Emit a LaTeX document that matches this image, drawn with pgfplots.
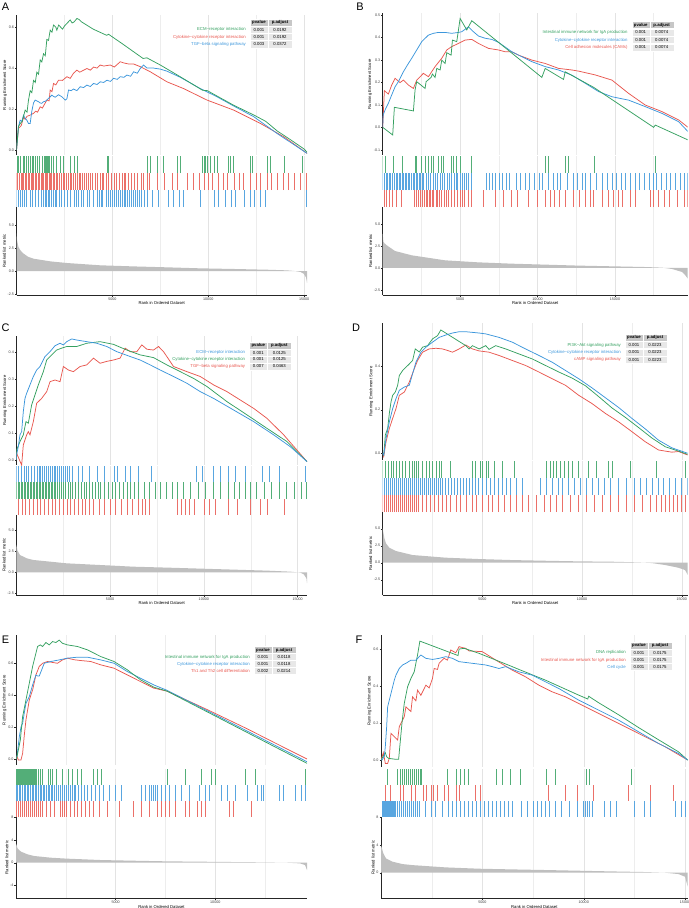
\documentclass[border=0pt]{standalone}
\usepackage{pgfplots}
\pgfplotsset{compat=1.18}
\usepackage{fontspec}
\setmainfont{Liberation Sans}
\definecolor{gG}{HTML}{35A060}
\definecolor{gR}{HTML}{E8574F}
\definecolor{gB}{HTML}{3C96DB}
\colorlet{hG}{gG!85!white}
\colorlet{hR}{gR!85!white}
\colorlet{hB}{gB!85!white}
\newcommand\tkf{\fontsize{3.7}{4}\selectfont}
\newcommand\lbf{\fontsize{4.2}{5}\selectfont}
\newcommand\tbf{\fontsize{4.3}{5}\selectfont}
\pgfplotsset{
  gbase/.style={scale only axis, anchor=north west, xmin=0, axis lines*=left,
    axis line style={line width=0.45bp, draw=black!85},
    every tick/.style={line width=0.35bp, draw=black!85},
    tick align=outside, major tick length=1.5bp, minor tick length=0bp,
    xtick={5000,10000,15000}, minor xtick={2500,7500,12500,17500},
    xmajorgrids, xminorgrids,
    major grid style={line width=0.35bp, draw=black!11},
    minor grid style={line width=0.3bp, draw=black!7},
    ticklabel style={font=\tkf, text=black!75, inner sep=0.8bp},
    label style={font=\lbf, inner sep=0.8bp},
    scaled ticks=false,
    /pgf/number format/assume math mode=true,
    /pgf/number format/1000 sep={},
    xticklabel style={/pgf/number format/fixed},
  },
  noxax/.style={x axis line style={draw=none}, xticklabels={}, xtick style={draw=none}},
  esax/.style={gbase, noxax, ylabel={Running Enrichment Score},
    yticklabel style={/pgf/number format/.cd, fixed, fixed zerofill, precision=1}},
  hitax/.style={gbase, noxax, ymin=0, ymax=1, ytick=\empty, y axis line style={draw=none}},
  rkax/.style={gbase, ylabel={Ranked list metric}, xlabel={Rank in Ordered Dataset},
    yticklabel style={/pgf/number format/.cd, fixed, fixed zerofill, precision=1}},
  rkaxi/.style={gbase, ylabel={Ranked list metric}, xlabel={Rank in Ordered Dataset},
    yticklabel style={/pgf/number format/.cd, fixed, precision=0}},
  esl/.style={line width=0.75bp, no marks},
  hit/.style={ycomb, no marks, line width=0.6bp},
  rank/.style={fill=black!25, draw=none, no marks},
}
\newcommand\gthead[2]{\begin{scope}[shift={(#1bp,-#2bp)}]
  \fill[black!22,draw=white,line width=0.4bp] (0,-3.6bp) rectangle (18bp,3.6bp);
  \fill[black!22,draw=white,line width=0.4bp] (18bp,-3.6bp) rectangle (42bp,3.6bp);
  \node[font=\tbf\bfseries,inner sep=0] at (9bp,0) {pvalue};
  \node[font=\tbf\bfseries,inner sep=0] at (30bp,0) {p.adjust};
  \end{scope}}
\newcommand\gtrow[6]{\begin{scope}[shift={(#1bp,-#2bp)}]
  \fill[black!9,draw=white,line width=0.4bp] (0,-3.6bp) rectangle (18bp,3.6bp);
  \fill[black!9,draw=white,line width=0.4bp] (18bp,-3.6bp) rectangle (42bp,3.6bp);
  \node[font=\tbf,inner sep=0,anchor=east,text=#3] at (-4bp,0) {#4};
  \node[font=\tbf,inner sep=0] at (9bp,0) {#5};
  \node[font=\tbf,inner sep=0] at (30bp,0) {#6};
  \end{scope}}
\begin{document}
\begin{tikzpicture}
\useasboundingbox (0,0) rectangle (689bp,-908bp);
% ================= PANEL A =================
\begin{axis}[esax, at={(16.5bp,-15bp)}, width=290.5bp, height=140bp, xmax=15150, ymin=-0.024, ymax=0.659, ytick={0,0.2,0.4,0.6}]
\addplot[esl,gR] coordinates {(0,0)(104,0.106)(250,0.12)(365,0.16)(450,0.15)(550,0.165)(700,0.17)(887,0.179)(1000,0.19)(1100,0.185)(1235,0.211)(1350,0.205)(1583,0.244)(1700,0.24)(1757,0.293)(1850,0.285)(1931,0.325)(2050,0.318)(2192,0.341)(2400,0.34)(2627,0.358)(2800,0.35)(2975,0.375)(3149,0.39)(3300,0.38)(3671,0.398)(3850,0.39)(4019,0.405)(4200,0.40)(4367,0.415)(4550,0.41)(4889,0.415)(5100,0.405)(5411,0.431)(5600,0.425)(5846,0.42)(6107,0.42)(6455,0.407)(6977,0.382)(7847,0.333)(8717,0.30)(9935,0.244)(11327,0.195)(12719,0.13)(13937,0.065)(15155,-0.016)};
\addplot[esl,gB] coordinates {(0,0)(104,0.114)(191,0.146)(278,0.14)(365,0.17)(452,0.155)(539,0.146)(626,0.13)(713,0.13)(800,0.19)(887,0.23)(974,0.244)(1060,0.24)(1148,0.236)(1235,0.23)(1322,0.228)(1409,0.236)(1500,0.238)(1583,0.244)(1757,0.26)(1844,0.268)(1931,0.262)(2018,0.258)(2192,0.27)(2366,0.26)(2540,0.244)(2627,0.25)(2714,0.293)(2850,0.29)(2975,0.298)(3149,0.29)(3323,0.309)(3500,0.305)(3671,0.317)(3850,0.31)(4019,0.325)(4200,0.32)(4367,0.333)(4550,0.33)(4715,0.341)(4900,0.335)(5063,0.35)(5250,0.345)(5411,0.358)(5600,0.355)(5759,0.366)(5950,0.36)(6107,0.382)(6300,0.375)(6455,0.398)(6629,0.415)(6803,0.40)(7151,0.40)(7499,0.395)(7847,0.385)(8543,0.355)(9587,0.30)(10457,0.26)(11327,0.215)(12371,0.163)(13589,0.081)(15155,-0.016)};
\addplot[esl,gG] coordinates {(0,0)(100,0.115)(200,0.13)(300,0.14)(450,0.195)(550,0.185)(620,0.24)(713,0.29)(800,0.28)(887,0.34)(980,0.33)(1061,0.38)(1150,0.37)(1235,0.44)(1320,0.43)(1409,0.47)(1500,0.46)(1583,0.54)(1670,0.535)(1757,0.585)(1850,0.575)(1931,0.61)(2050,0.60)(2105,0.585)(2200,0.61)(2400,0.59)(2500,0.605)(2650,0.62)(2800,0.635)(2900,0.62)(3000,0.625)(3150,0.642)(3250,0.638)(3400,0.625)(4000,0.59)(4700,0.56)(4800,0.565)(5500,0.52)(6600,0.447)(6800,0.45)(7500,0.415)(8500,0.36)(9700,0.292)(9950,0.29)(11300,0.22)(12400,0.17)(13000,0.14)(13600,0.093)(14300,0.05)(15000,0.005)(15150,-0.01)};
\end{axis}
\begin{axis}[hitax, at={(16.5bp,-156bp)}, width=290.5bp, height=17bp, xmax=15150]
\addplot[hit,hG] coordinates {(20,1)(100,1)(190,1)(330,1)(400,1)(500,1)(630,1)(710,1)(800,1)(890,1)(970,1)(1060,1)(1200,1)(1320,1)(1440,1)(1500,1)(1550,1)(1620,1)(1670,1)(1720,1)(1790,1)(1930,1)(2100,1)(2280,1)(2450,1)(2800,1)(3000,1)(3180,1)(4710,1)(4800,1)(6800,1)(6980,1)(7320,1)(7670,1)(8370,1)(8540,1)(9680,1)(9770,1)(9850,1)(9940,1)(10110,1)(10290,1)(10460,1)(11070,1)(11160,1)(11330,1)(12200,1)(12290,1)(13070,1)(13240,1)(13940,1)(14900,1)};
\end{axis}
\begin{axis}[hitax, at={(16.5bp,-173bp)}, width=290.5bp, height=17bp, xmax=15150]
\addplot[hit,hR] coordinates {(0,1)(60,1)(150,1)(230,1)(300,1)(380,1)(450,1)(520,1)(600,1)(680,1)(750,1)(830,1)(900,1)(980,1)(1050,1)(1120,1)(1200,1)(1280,1)(1350,1)(1420,1)(1500,1)(1560,1)(1630,1)(1700,1)(1760,1)(1830,1)(1900,1)(1980,1)(2050,1)(2150,1)(2250,1)(2330,1)(2420,1)(2500,1)(2600,1)(2700,1)(2780,1)(2880,1)(2950,1)(3050,1)(3150,1)(3250,1)(3350,1)(3430,1)(3550,1)(3650,1)(3750,1)(3850,1)(3950,1)(4100,1)(4200,1)(4350,1)(4450,1)(4550,1)(4700,1)(4800,1)(4950,1)(5100,1)(5200,1)(5350,1)(5500,1)(5600,1)(5700,1)(5850,1)(6000,1)(6150,1)(6300,1)(6500,1)(6600,1)(6800,1)(6950,1)(7350,1)(7700,1)(8100,1)(8400,1)(8900,1)(9200,1)(9550,1)(9800,1)(10000,1)(10200,1)(10500,1)(10800,1)(11000,1)(11350,1)(11600,1)(11850,1)(12200,1)(12500,1)(12700,1)(13100,1)(13300,1)(13600,1)(13900,1)(14200,1)(14500,1)(14800,1)(15100,1)};
\end{axis}
\begin{axis}[hitax, at={(16.5bp,-190bp)}, width=290.5bp, height=17bp, xmax=15150]
\addplot[hit,hB] coordinates {(0,1)(90,1)(200,1)(300,1)(420,1)(520,1)(700,1)(850,1)(1000,1)(1150,1)(1300,1)(1400,1)(1480,1)(1560,1)(1640,1)(1700,1)(1800,1)(1900,1)(2000,1)(2100,1)(2250,1)(2350,1)(2500,1)(2650,1)(2800,1)(3000,1)(3100,1)(3200,1)(3400,1)(3500,1)(3700,1)(3800,1)(4000,1)(4200,1)(4300,1)(4400,1)(4500,1)(4700,1)(4800,1)(4900,1)(5000,1)(5100,1)(5200,1)(5300,1)(5400,1)(5500,1)(5600,1)(5700,1)(5800,1)(5900,1)(6000,1)(6100,1)(6200,1)(6300,1)(6400,1)(6500,1)(6650,1)(6800,1)(7100,1)(7400,1)(7900,1)(8200,1)(8500,1)(8700,1)(9600,1)(10300,1)(10500,1)(10900,1)(11200,1)(11400,1)(11900,1)(12200,1)(12400,1)(12700,1)(13000,1)(15100,1)};
\end{axis}
\begin{axis}[rkax, at={(16.5bp,-207bp)}, width=290.5bp, height=88bp, xmax=15150, ymin=-2.61, ymax=6.96, ytick={-2.5,0,2.5,5}]
\addplot[rank] coordinates {(0,4.1)(30,3.3)(104,2.6)(200,2.25)(365,1.9)(600,1.55)(887,1.34)(1757,1.05)(2627,0.87)(4367,0.62)(6107,0.5)(7847,0.4)(9587,0.29)(11327,0.22)(13067,0.14)(14111,0.07)(14500,0.0)(14807,-0.1)(14981,-0.3)(15100,-0.7)(15150,-1.3)} \closedcycle;
\end{axis}
% ================= PANEL B =================
\begin{axis}[esax, at={(382.7bp,-13.3bp)}, width=305bp, height=141.7bp, xmax=19700, ymin=-0.123, ymax=0.507, ytick={-0.1,0,0.1,0.2,0.3,0.4,0.5}]
\addplot[esl,gR] coordinates {(0,0)(108,0.163)(366,0.148)(582,0.188)(797,0.218)(1120,0.199)(1336,0.21)(1659,0.188)(1983,0.173)(2198,0.21)(2629,0.24)(2952,0.225)(3383,0.27)(3814,0.307)(4138,0.344)(4461,0.359)(4892,0.373)(5323,0.388)(5754,0.391)(6185,0.373)(6831,0.351)(7478,0.344)(7909,0.336)(8340,0.336)(8771,0.321)(9633,0.299)(10495,0.284)(11357,0.262)(12219,0.255)(12650,0.25)(13727,0.233)(14805,0.21)(15882,0.151)(16960,0.099)(18037,0.07)(19114,0.033)(19718,0)};
\addplot[esl,gB] coordinates {(0,0)(30,0.055)(151,0.077)(366,0.107)(582,0.144)(797,0.18)(1013,0.203)(1336,0.247)(1659,0.284)(1875,0.307)(2198,0.344)(2521,0.381)(2952,0.41)(3276,0.418)(3599,0.422)(4030,0.422)(4461,0.418)(4892,0.422)(5107,0.425)(5538,0.447)(5862,0.425)(6185,0.406)(6616,0.396)(7047,0.391)(7478,0.378)(8340,0.336)(9633,0.292)(10495,0.27)(11357,0.255)(12219,0.232)(13081,0.196)(13943,0.159)(14805,0.136)(15882,0.121)(16960,0.092)(18037,0.062)(19114,0.025)(19718,-0.019)};
\addplot[esl,gG] coordinates {(0,0)(647,-0.034)(754,0.089)(1983,0.073)(2090,0.166)(2198,0.203)(2737,0.173)(2802,0.203)(3125,0.222)(3211,0.237)(3383,0.222)(3491,0.262)(3707,0.255)(3814,0.299)(4030,0.284)(4138,0.332)(4418,0.321)(4504,0.388)(4784,0.381)(5000,0.484)(5431,0.433)(5754,0.474)(10279,0.222)(10495,0.262)(11680,0.213)(11788,0.247)(13620,0.178)(17499,0.0)(17606,0.01)(19718,-0.056)};
\end{axis}
\begin{axis}[hitax, at={(382.7bp,-156bp)}, width=305bp, height=17bp, xmax=19700]
\addplot[hit,hG] coordinates {(0,1)(151,1)(690,1)(1272,1)(2090,1)(2198,1)(2521,1)(2737,1)(2952,1)(3125,1)(3276,1)(3599,1)(3814,1)(3922,1)(4418,1)(4569,1)(4784,1)(5000,1)(5754,1)(10495,1)(10711,1)(11788,1)(12003,1)(13685,1)(17606,1)};
\end{axis}
\begin{axis}[hitax, at={(382.7bp,-173bp)}, width=305bp, height=17bp, xmax=19700]
\addplot[hit,hB] coordinates {(0,1)(100,1)(200,1)(320,1)(430,1)(520,1)(640,1)(750,1)(850,1)(950,1)(1050,1)(1150,1)(1250,1)(1350,1)(1450,1)(1550,1)(1650,1)(1750,1)(1850,1)(1950,1)(2050,1)(2150,1)(2250,1)(2350,1)(2450,1)(2550,1)(2650,1)(2800,1)(2950,1)(3100,1)(3250,1)(3400,1)(3550,1)(3700,1)(3850,1)(4000,1)(4150,1)(4300,1)(4450,1)(4600,1)(4750,1)(4850,1)(5000,1)(5150,1)(5300,1)(5400,1)(5550,1)(5700,1)(6700,1)(6900,1)(7100,1)(7250,1)(7500,1)(7700,1)(8000,1)(8200,1)(8600,1)(8900,1)(9200,1)(9500,1)(9800,1)(10100,1)(10300,1)(10700,1)(11000,1)(11300,1)(11500,1)(11900,1)(12300,1)(12600,1)(12900,1)(13100,1)(13400,1)(13800,1)(14200,1)(14500,1)(14800,1)(15100,1)(15400,1)(15700,1)(16000,1)(16300,1)(16600,1)(16900,1)(17200,1)(17500,1)(17700,1)(18000,1)(18300,1)(18600,1)(18900,1)(19200,1)(19500,1)(19700,1)};
\end{axis}
\begin{axis}[hitax, at={(382.7bp,-190bp)}, width=305bp, height=17bp, xmax=19700]
\addplot[hit,hR] coordinates {(100,1)(250,1)(400,1)(600,1)(900,1)(1200,1)(2050,1)(2150,1)(2300,1)(2400,1)(2550,1)(2700,1)(2800,1)(2900,1)(3000,1)(3100,1)(3200,1)(3300,1)(3450,1)(3550,1)(3650,1)(3800,1)(3950,1)(4100,1)(4250,1)(4400,1)(4600,1)(4800,1)(5000,1)(5150,1)(5300,1)(5500,1)(5700,1)(6500,1)(7300,1)(7800,1)(8300,1)(8700,1)(9400,1)(10000,1)(10500,1)(10800,1)(11100,1)(11400,1)(11800,1)(12300,1)(12700,1)(13100,1)(13400,1)(13600,1)(14200,1)(14600,1)(14900,1)(15200,1)(15500,1)(16000,1)(16300,1)(17300,1)(17500,1)(17800,1)(18200,1)(18500,1)(19000,1)(19500,1)(19700,1)};
\end{axis}
\begin{axis}[rkax, at={(382.7bp,-207bp)}, width=305bp, height=88bp, xmax=19700, ymin=-3.07, ymax=6.93, ytick={-2.5,0,2.5,5}]
\addplot[rank] coordinates {(0,3.9)(43,3.0)(120,2.8)(259,2.58)(797,1.93)(1875,1.44)(4030,0.87)(6185,0.64)(8340,0.49)(10495,0.38)(12650,0.27)(14805,0.19)(16960,0.11)(18037,0.04)(18684,-0.11)(19330,-0.45)(19546,-0.83)(19700,-1.2)} \closedcycle;
\end{axis}
% ================= PANEL C =================
\begin{axis}[esax, at={(16.3bp,-335.7bp)}, width=290.7bp, height=129.3bp, xmax=15500, ymin=-0.0185, ymax=0.46, ytick={0,0.1,0.2,0.3,0.4}]
\addplot[esl,gR] coordinates {(0,0)(18,0.025)(285,-0.019)(374,0.056)(552,0.093)(641,0.105)(730,0.093)(908,0.142)(1086,0.21)(1353,0.228)(1620,0.253)(1798,0.29)(2065,0.296)(2332,0.29)(2510,0.346)(2777,0.333)(3044,0.327)(3400,0.346)(3756,0.352)(4112,0.377)(4468,0.358)(4824,0.365)(5180,0.37)(5536,0.377)(5803,0.414)(6070,0.401)(6426,0.401)(6693,0.426)(6960,0.41)(7316,0.407)(7583,0.42)(7850,0.401)(8384,0.346)(9096,0.327)(9808,0.309)(10520,0.278)(11232,0.253)(11944,0.222)(12656,0.191)(13368,0.154)(14258,0.093)(15500,-0.006)};
\addplot[esl,gG] coordinates {(0,0)(18,0.037)(196,0.068)(374,0.093)(516,0.142)(641,0.136)(819,0.204)(997,0.241)(1175,0.278)(1442,0.327)(1620,0.37)(1887,0.389)(2154,0.407)(2421,0.414)(2688,0.42)(3222,0.42)(3756,0.432)(4468,0.438)(5180,0.428)(5892,0.407)(6604,0.389)(7316,0.379)(8028,0.352)(8740,0.327)(9452,0.302)(10164,0.272)(11232,0.216)(12300,0.167)(13368,0.117)(14436,0.068)(15500,-0.006)};
\addplot[esl,gB] coordinates {(0,0)(18,0.019)(107,0.05)(196,0.093)(285,0.105)(374,0.179)(463,0.228)(552,0.247)(730,0.278)(908,0.309)(1086,0.333)(1264,0.346)(1531,0.383)(1798,0.401)(2065,0.423)(2332,0.432)(2510,0.426)(2688,0.438)(2955,0.448)(3222,0.444)(3756,0.438)(4290,0.432)(4824,0.42)(5358,0.401)(6070,0.383)(6604,0.37)(7138,0.352)(7672,0.333)(8384,0.309)(9096,0.284)(9808,0.253)(10520,0.228)(11588,0.185)(12656,0.142)(13724,0.093)(14614,0.049)(15500,-0.006)};
\end{axis}
\begin{axis}[hitax, at={(16.3bp,-466bp)}, width=290.7bp, height=16.3bp, xmax=15500]
\addplot[hit,hB] coordinates {(20,1)(120,1)(250,1)(400,1)(520,1)(650,1)(800,1)(950,1)(1100,1)(1200,1)(1300,1)(1400,1)(1500,1)(1600,1)(1700,1)(1800,1)(1900,1)(2000,1)(2100,1)(2200,1)(2300,1)(2400,1)(2500,1)(2600,1)(2700,1)(2800,1)(3000,1)(3300,1)(3500,1)(3900,1)(4300,1)(4700,1)(5200,1)(5400,1)(5800,1)(6100,1)(6500,1)(7200,1)(9600,1)(9900,1)(10500,1)(10900,1)(11300,1)(11700,1)(12200,1)(13100,1)(13500,1)(14000,1)(15400,1)};
\end{axis}
\begin{axis}[hitax, at={(16.3bp,-482.3bp)}, width=290.7bp, height=16.3bp, xmax=15500]
\addplot[hit,hG] coordinates {(0,1)(80,1)(160,1)(250,1)(330,1)(420,1)(500,1)(580,1)(660,1)(740,1)(820,1)(900,1)(980,1)(1060,1)(1140,1)(1220,1)(1300,1)(1380,1)(1460,1)(1540,1)(1620,1)(1700,1)(1780,1)(1860,1)(1940,1)(2020,1)(2100,1)(2200,1)(2300,1)(2400,1)(2500,1)(2620,1)(2750,1)(2880,1)(3000,1)(3150,1)(3300,1)(3450,1)(3600,1)(3750,1)(3900,1)(4050,1)(4200,1)(4350,1)(4500,1)(4700,1)(4900,1)(5100,1)(5300,1)(5500,1)(5700,1)(5900,1)(6100,1)(6300,1)(6500,1)(6800,1)(7100,1)(7400,1)(7700,1)(8000,1)(8300,1)(8600,1)(8900,1)(9300,1)(9700,1)(10100,1)(10500,1)(10900,1)(11300,1)(11600,1)(11900,1)(12200,1)(12500,1)(12800,1)(13200,1)(13600,1)(14000,1)(14400,1)(14800,1)(15200,1)(15450,1)};
\end{axis}
\begin{axis}[hitax, at={(16.3bp,-498.6bp)}, width=290.7bp, height=16.3bp, xmax=15500]
\addplot[hit,hR] coordinates {(100,1)(300,1)(500,1)(700,1)(900,1)(1100,1)(1300,1)(1500,1)(1700,1)(1900,1)(2100,1)(2300,1)(2500,1)(2700,1)(2900,1)(3100,1)(3300,1)(3500,1)(3700,1)(3900,1)(4100,1)(4400,1)(4700,1)(5000,1)(5300,1)(5600,1)(5900,1)(6200,1)(6500,1)(6700,1)(6900,1)(7100,1)(8600,1)(8800,1)(9000,1)(9200,1)(9500,1)(10000,1)(10300,1)(10600,1)(11300,1)(11800,1)(12500,1)(13000,1)(13400,1)(14300,1)};
\end{axis}
\begin{axis}[rkax, at={(16.3bp,-515bp)}, width=290.7bp, height=80bp, xmax=15500, ymin=-2.70, ymax=6.82, ytick={-2.5,0,2.5,5}]
\addplot[rank] coordinates {(0,3.3)(60,2.6)(196,2.06)(552,1.67)(908,1.47)(1798,1.27)(2688,1.07)(4468,0.87)(6248,0.67)(8028,0.56)(9808,0.44)(11588,0.32)(13368,0.2)(14614,0.08)(15148,-0.04)(15326,-0.24)(15470,-0.71)(15500,-1.3)} \closedcycle;
\end{axis}
% ================= PANEL D =================
\begin{axis}[esax, at={(382.7bp,-323bp)}, width=305bp, height=137bp, xmax=15300, ymin=-0.031, ymax=0.598, ytick={0,0.2,0.4}]
\addplot[esl,gR] coordinates {(0,0)(50,-0.015)(167,0.053)(333,0.114)(500,0.16)(667,0.205)(834,0.266)(1084,0.281)(1334,0.327)(1584,0.388)(1750,0.426)(2000,0.464)(2334,0.479)(2667,0.482)(3000,0.479)(3251,0.472)(3501,0.464)(3834,0.479)(4168,0.497)(4501,0.479)(4834,0.47)(5334,0.464)(5835,0.449)(6501,0.426)(7168,0.403)(7835,0.373)(8502,0.342)(9169,0.312)(9835,0.266)(10502,0.228)(11169,0.183)(11836,0.144)(12503,0.099)(13169,0.053)(13836,0.015)(14503,0.005)(14836,0.008)(15300,-0.008)};
\addplot[esl,gG] coordinates {(0,0)(50,-0.008)(133,0.084)(250,0.114)(333,0.183)(417,0.236)(500,0.266)(633,0.281)(750,0.312)(834,0.357)(1000,0.38)(1167,0.395)(1334,0.41)(1500,0.426)(1634,0.479)(1834,0.465)(2000,0.487)(2250,0.494)(2500,0.525)(2750,0.54)(2917,0.566)(4168,0.494)(4334,0.479)(4501,0.494)(4834,0.479)(5168,0.494)(5334,0.477)(5668,0.494)(6168,0.479)(6835,0.456)(7502,0.433)(8168,0.403)(8835,0.373)(9502,0.345)(10169,0.31)(10836,0.26)(11502,0.208)(12169,0.165)(12836,0.118)(13503,0.07)(14170,0.03)(14836,0.01)(15300,-0.005)};
\addplot[esl,gB] coordinates {(0,0)(50,-0.008)(167,0.068)(333,0.144)(500,0.205)(667,0.251)(834,0.289)(1084,0.304)(1334,0.312)(1500,0.365)(1667,0.418)(1917,0.464)(2167,0.487)(2500,0.51)(2834,0.532)(3167,0.543)(3501,0.552)(3834,0.558)(4168,0.558)(4501,0.555)(4834,0.552)(5168,0.548)(5835,0.532)(6501,0.51)(7168,0.479)(7835,0.449)(8502,0.418)(9169,0.38)(9835,0.342)(10502,0.3)(11169,0.255)(11836,0.21)(12503,0.16)(13169,0.112)(13836,0.06)(14503,0.025)(15300,0.0)};
\end{axis}
\begin{axis}[hitax, at={(382.7bp,-461bp)}, width=305bp, height=17bp, xmax=15300]
\addplot[hit,hG] coordinates {(0,1)(150,1)(300,1)(450,1)(550,1)(700,1)(850,1)(1000,1)(1150,1)(1350,1)(1500,1)(1600,1)(1700,1)(1800,1)(2000,1)(2200,1)(2350,1)(2500,1)(2700,1)(2850,1)(2950,1)(3400,1)(4500,1)(4650,1)(4900,1)(5000,1)(5200,1)(5300,1)(5600,1)(6000,1)(6600,1)(8200,1)(8400,1)(8550,1)(8700,1)(8900,1)(9100,1)(9300,1)(9500,1)(9800,1)(10300,1)(10700,1)(11300,1)(11500,1)(12400,1)(13700,1)(15200,1)};
\end{axis}
\begin{axis}[hitax, at={(382.7bp,-478bp)}, width=305bp, height=17bp, xmax=15300]
\addplot[hit,hB] coordinates {(0,1)(100,1)(200,1)(300,1)(400,1)(500,1)(600,1)(700,1)(800,1)(900,1)(1000,1)(1100,1)(1200,1)(1300,1)(1400,1)(1500,1)(1600,1)(1700,1)(1800,1)(1900,1)(2000,1)(2100,1)(2200,1)(2300,1)(2400,1)(2500,1)(2600,1)(2700,1)(2800,1)(2900,1)(3000,1)(3150,1)(3300,1)(3450,1)(3600,1)(3750,1)(3900,1)(4050,1)(4200,1)(4350,1)(4500,1)(4650,1)(4800,1)(5000,1)(5200,1)(5400,1)(5600,1)(5800,1)(6000,1)(6200,1)(6400,1)(6700,1)(7000,1)(7900,1)(8200,1)(8500,1)(8800,1)(9000,1)(9300,1)(9600,1)(9900,1)(10200,1)(10500,1)(10800,1)(11100,1)(11400,1)(11800,1)(12200,1)(12600,1)(12900,1)(13200,1)(13500,1)(13800,1)(14100,1)(14400,1)(14700,1)(15000,1)(15300,1)};
\end{axis}
\begin{axis}[hitax, at={(382.7bp,-495bp)}, width=305bp, height=17bp, xmax=15300]
\addplot[hit,hR] coordinates {(0,1)(100,1)(200,1)(300,1)(400,1)(500,1)(600,1)(700,1)(800,1)(900,1)(1000,1)(1100,1)(1200,1)(1300,1)(1400,1)(1500,1)(1600,1)(1700,1)(1800,1)(2000,1)(2200,1)(2400,1)(2600,1)(2800,1)(3000,1)(3200,1)(3400,1)(3700,1)(3900,1)(4200,1)(4500,1)(4700,1)(5000,1)(5300,1)(5500,1)(5800,1)(6100,1)(6400,1)(6700,1)(7000,1)(7300,1)(7700,1)(8100,1)(8400,1)(8700,1)(9000,1)(9400,1)(9800,1)(10200,1)(10600,1)(11000,1)(11400,1)(11800,1)(12200,1)(12600,1)(13000,1)(13400,1)(13700,1)(14000,1)(14200,1)(14400,1)(14600,1)(14800,1)(15000,1)(15200,1)};
\end{axis}
\begin{axis}[rkax, at={(382.7bp,-512bp)}, width=305bp, height=83bp, xmax=15300, ymin=-4.75, ymax=7.46, ytick={-2.5,0,2.5,5,7.5}]
\addplot[rank] coordinates {(0,5.0)(83,3.6)(167,2.84)(333,2.2)(667,1.72)(1500,1.13)(3167,0.74)(4834,0.54)(6501,0.39)(8168,0.29)(9835,0.2)(11502,0.15)(12836,0.05)(13503,-0.05)(14170,-0.34)(14836,-0.74)(15170,-1.08)(15300,-1.8)} \closedcycle;
\end{axis}
% ================= PANEL E =================
\begin{axis}[esax, at={(16bp,-635bp)}, width=291bp, height=130bp, xmax=14600, ymin=-0.0376, ymax=0.777, ytick={0,0.2,0.4,0.6}]
\addplot[esl,gR] coordinates {(0,0)(50,0.015)(117,-0.006)(250,-0.006)(333,0.036)(417,0.15)(500,0.245)(667,0.37)(834,0.433)(1000,0.527)(1167,0.58)(1334,0.6)(1584,0.611)(1834,0.605)(2084,0.6)(2334,0.621)(2584,0.632)(2917,0.622)(3251,0.617)(3751,0.611)(4251,0.59)(4918,0.569)(5584,0.527)(6251,0.485)(6918,0.444)(7585,0.425)(9585,0.31)(11585,0.19)(13085,0.095)(14600,0)};
\addplot[esl,gB] coordinates {(0,0)(50,0.015)(167,0.14)(250,0.2)(333,0.224)(417,0.29)(500,0.349)(667,0.391)(834,0.464)(1000,0.527)(1084,0.52)(1167,0.52)(1417,0.6)(1750,0.611)(2167,0.621)(2584,0.632)(3084,0.638)(3584,0.638)(4251,0.621)(4918,0.6)(5584,0.548)(6251,0.506)(6918,0.464)(7585,0.43)(9585,0.303)(11585,0.176)(13085,0.08)(14600,-0.017)};
\addplot[esl,gG] coordinates {(0,0)(50,0.015)(217,0.119)(333,0.266)(500,0.37)(667,0.475)(834,0.58)(1000,0.663)(1084,0.705)(1217,0.715)(1334,0.705)(1500,0.73)(1667,0.715)(1834,0.736)(2000,0.73)(2167,0.745)(2334,0.725)(2584,0.715)(3084,0.705)(3584,0.684)(4251,0.642)(4918,0.611)(5584,0.559)(6251,0.496)(6918,0.45)(7585,0.425)(9585,0.296)(11585,0.167)(13085,0.07)(14600,-0.027)};
\end{axis}
\begin{axis}[hitax, at={(16bp,-769bp)}, width=291bp, height=15.9bp, xmax=14600]
\addplot[hit,hG] coordinates {(0,1)(50,1)(100,1)(150,1)(200,1)(250,1)(300,1)(350,1)(400,1)(450,1)(500,1)(550,1)(600,1)(650,1)(700,1)(750,1)(800,1)(850,1)(900,1)(950,1)(1000,1)(1100,1)(1200,1)(1300,1)(1600,1)(1700,1)(1800,1)(2000,1)(2300,1)(2600,1)(2800,1)(3100,1)(3300,1)(3900,1)(4100,1)(4300,1)(7600,1)(8500,1)(9300,1)(9800,1)(10000,1)(11500,1)(12000,1)(14500,1)};
\end{axis}
\begin{axis}[hitax, at={(16bp,-784.9bp)}, width=291bp, height=15.9bp, xmax=14600]
\addplot[hit,hB] coordinates {(0,1)(80,1)(160,1)(240,1)(320,1)(400,1)(480,1)(560,1)(640,1)(720,1)(800,1)(880,1)(960,1)(1040,1)(1120,1)(1200,1)(1280,1)(1360,1)(1440,1)(1520,1)(1600,1)(1680,1)(1760,1)(1840,1)(1920,1)(2000,1)(2100,1)(2200,1)(2300,1)(2400,1)(2500,1)(2600,1)(2700,1)(2800,1)(2900,1)(3000,1)(3150,1)(3300,1)(3450,1)(3600,1)(3800,1)(4000,1)(4200,1)(4400,1)(4700,1)(5000,1)(5300,1)(6300,1)(6500,1)(6700,1)(6800,1)(6900,1)(7000,1)(7100,1)(7300,1)(7500,1)(7700,1)(8000,1)(8300,1)(8700,1)(9200,1)(9500,1)(9700,1)(10300,1)(10600,1)(11000,1)(11600,1)(12100,1)(12300,1)(12400,1)(13200,1)(13400,1)(14000,1)(14300,1)(14500,1)};
\end{axis}
\begin{axis}[hitax, at={(16bp,-800.8bp)}, width=291bp, height=15.9bp, xmax=14600]
\addplot[hit,hR] coordinates {(0,1)(100,1)(200,1)(300,1)(400,1)(500,1)(600,1)(700,1)(800,1)(900,1)(1000,1)(1100,1)(1200,1)(1300,1)(1500,1)(1700,1)(1900,1)(2200,1)(2300,1)(2400,1)(2500,1)(2700,1)(2900,1)(3100,1)(3300,1)(3500,1)(3700,1)(3900,1)(4200,1)(4600,1)(5200,1)(5900,1)(6300,1)(6700,1)(7100,1)(7300,1)(7500,1)(7700,1)(8000,1)(8500,1)(8700,1)(9100,1)(9300,1)(9500,1)(10700,1)(10900,1)(11800,1)};
\end{axis}
\begin{axis}[rkaxi, at={(16bp,-816.7bp)}, width=291bp, height=81.6bp, xmax=14600, ymin=-6.27, ymax=8.1, ytick={-4,0,4,8}]
\addplot[rank] coordinates {(0,3.4)(83,2.5)(250,1.94)(584,1.47)(917,1.18)(1750,0.88)(2584,0.71)(4251,0.47)(5918,0.35)(7585,0.24)(9252,0.18)(10919,0.12)(12586,0.06)(13586,0.0)(14252,-0.12)(14502,-0.41)(14600,-1.3)} \closedcycle;
\end{axis}
% ================= PANEL F =================
\begin{axis}[esax, at={(381bp,-635bp)}, width=306.7bp, height=131.7bp, xmax=15130, ymin=-0.036, ymax=0.676, ytick={0,0.2,0.4,0.6}]
\addplot[esl,gR] coordinates {(0,0)(115,0.04)(213,-0.018)(328,-0.018)(410,0.01)(492,0.144)(656,0.126)(820,0.108)(901,0.18)(1147,0.234)(1229,0.288)(1475,0.262)(1557,0.342)(1721,0.32)(1803,0.378)(1967,0.35)(2213,0.405)(2377,0.39)(2540,0.441)(2622,0.495)(2786,0.49)(2868,0.523)(3114,0.55)(3278,0.54)(3442,0.595)(3688,0.58)(3852,0.613)(4016,0.608)(4179,0.604)(4343,0.59)(4999,0.586)(5655,0.541)(6474,0.486)(7130,0.45)(7785,0.405)(8441,0.369)(9096,0.342)(10080,0.288)(10735,0.252)(11719,0.198)(12211,0.171)(13030,0.126)(14013,0.072)(15130,0)};
\addplot[esl,gG] coordinates {(0,0)(213,0.04)(279,0.018)(377,0.009)(738,0.004)(869,0.004)(934,0.081)(1033,0.198)(1147,0.306)(1311,0.396)(1475,0.441)(1639,0.477)(1721,0.523)(1803,0.568)(1918,0.643)(3800,0.565)(3852,0.60)(4098,0.604)(4835,0.577)(5655,0.541)(6474,0.505)(6802,0.49)(8113,0.432)(9752,0.351)(10200,0.33)(10244,0.345)(10735,0.31)(11719,0.245)(12702,0.176)(13686,0.11)(14669,0.045)(15130,0)};
\addplot[esl,gB] coordinates {(0,0)(49,0)(164,0.02)(213,0.072)(279,0.18)(328,0.288)(410,0.324)(492,0.36)(574,0.396)(656,0.432)(738,0.459)(901,0.495)(1065,0.514)(1229,0.523)(1475,0.54)(1721,0.54)(1967,0.568)(2213,0.55)(2540,0.544)(2868,0.55)(3196,0.559)(3524,0.55)(3852,0.532)(4507,0.523)(5163,0.514)(5491,0.505)(5818,0.495)(6146,0.505)(6802,0.477)(7457,0.459)(8113,0.423)(8769,0.387)(9752,0.324)(10735,0.27)(11719,0.216)(12702,0.153)(13686,0.09)(14669,0.036)(15130,0)};
\end{axis}
\begin{axis}[hitax, at={(381bp,-769bp)}, width=306.7bp, height=15.9bp, xmax=15130]
\addplot[hit,hG] coordinates {(330,1)(800,1)(950,1)(1050,1)(1150,1)(1250,1)(1350,1)(1450,1)(1550,1)(1650,1)(1750,1)(1850,1)(1950,1)(2000,1)(3250,1)(3730,1)(3900,1)(4100,1)(4310,1)(5700,1)(6000,1)(6400,1)(6850,1)(8170,1)(8580,1)(10150,1)(10260,1)(12370,1)};
\end{axis}
\begin{axis}[hitax, at={(381bp,-784.9bp)}, width=306.7bp, height=15.9bp, xmax=15130]
\addplot[hit,hR] coordinates {(200,1)(440,1)(940,1)(1090,1)(1500,1)(1700,1)(2100,1)(2250,1)(2500,1)(2600,1)(2800,1)(3100,1)(3300,1)(3700,1)(3850,1)(4640,1)(4880,1)(8240,1)(9080,1)(9670,1)(10460,1)(12190,1)(13270,1)(14400,1)};
\end{axis}
\begin{axis}[hitax, at={(381bp,-800.8bp)}, width=306.7bp, height=15.9bp, xmax=15130]
\addplot[hit,hB] coordinates {(50,1)(100,1)(150,1)(200,1)(250,1)(300,1)(350,1)(400,1)(450,1)(500,1)(550,1)(600,1)(650,1)(700,1)(800,1)(900,1)(1000,1)(1100,1)(1200,1)(1300,1)(1400,1)(1500,1)(1600,1)(1700,1)(1800,1)(1900,1)(2200,1)(2500,1)(2700,1)(3000,1)(3300,1)(3500,1)(3700,1)(3900,1)(4100,1)(4300,1)(4500,1)(4700,1)(4900,1)(5100,1)(5300,1)(5500,1)(5700,1)(5900,1)(6100,1)(6300,1)(6500,1)(6900,1)(7200,1)(7500,1)(7700,1)(7900,1)(8100,1)(8300,1)(8600,1)(8900,1)(9300,1)(9700,1)(10000,1)(10100,1)(10200,1)(10300,1)(10400,1)(11000,1)(11300,1)(11600,1)(12500,1)(13000,1)(13300,1)(14500,1)(14800,1)(15000,1)};
\end{axis}
\begin{axis}[rkaxi, at={(381bp,-816.7bp)}, width=306.7bp, height=81.6bp, xmax=15130, ymin=-3.7, ymax=8.1, ytick={0,4,8}]
\addplot[rank] coordinates {(0,4.0)(115,2.8)(246,2.07)(574,1.59)(1065,1.25)(1557,1.1)(3196,0.77)(4835,0.58)(6474,0.48)(8113,0.39)(9752,0.29)(11391,0.19)(13030,0.1)(14013,0.0)(14669,-0.19)(15000,-0.58)(15130,-2.0)} \closedcycle;
\end{axis}
% ================= tables =================
\gthead{250}{22.5}
\gtrow{250}{29.7}{gG}{ECM−receptor interaction}{0.001}{0.0192}
\gtrow{250}{36.9}{gR}{Cytokine−cytokine receptor interaction}{0.001}{0.0192}
\gtrow{250}{44.1}{gB}{TGF−beta signaling pathway}{0.003}{0.0372}
\gthead{631.7}{25}
\gtrow{631.7}{32.5}{gG}{Intestinal immune network for IgA production}{0.001}{0.0074}
\gtrow{631.7}{40}{gB}{Cytokine−cytokine receptor interaction}{0.001}{0.0074}
\gtrow{631.7}{47.5}{gR}{Cell adhesion molecules (CAMs)}{0.001}{0.0074}
\gthead{249.3}{345.7}
\gtrow{249.3}{352.6}{gB}{ECM−receptor interaction}{0.001}{0.0125}
\gtrow{249.3}{359.5}{gG}{Cytokine−cytokine receptor interaction}{0.001}{0.0125}
\gtrow{249.3}{366.4}{gR}{TGF−beta signaling pathway}{0.007}{0.0463}
\gthead{625}{337.7}
\gtrow{625}{345}{gG}{PI3K−Akt signaling pathway}{0.001}{0.0223}
\gtrow{625}{352.3}{gB}{Cytokine−cytokine receptor interaction}{0.001}{0.0223}
\gtrow{625}{359.6}{gR}{cAMP signaling pathway}{0.001}{0.0223}
\gthead{254}{650}
\gtrow{254}{657}{gG}{Intestinal immune network for IgA production}{0.001}{0.0118}
\gtrow{254}{664}{gB}{Cytokine−cytokine receptor interaction}{0.001}{0.0118}
\gtrow{254}{671}{gR}{Th1 and Th2 cell differentiation}{0.002}{0.0214}
\gthead{630}{645.7}
\gtrow{630}{652.8}{gG}{DNA replication}{0.001}{0.0175}
\gtrow{630}{659.9}{gR}{Intestinal immune network for IgA production}{0.001}{0.0175}
\gtrow{630}{667}{gB}{Cell cycle}{0.001}{0.0175}
% ================= panel letters =================
\node[font=\fontsize{11}{12}\selectfont] at (5.5bp,-7bp) {A};
\node[font=\fontsize{11}{12}\selectfont] at (360bp,-7bp) {B};
\node[font=\fontsize{11}{12}\selectfont] at (5.5bp,-328bp) {C};
\node[font=\fontsize{11}{12}\selectfont] at (356bp,-328bp) {D};
\node[font=\fontsize{11}{12}\selectfont] at (5.5bp,-640bp) {E};
\node[font=\fontsize{11}{12}\selectfont] at (359bp,-640bp) {F};
\end{tikzpicture}
\end{document}
